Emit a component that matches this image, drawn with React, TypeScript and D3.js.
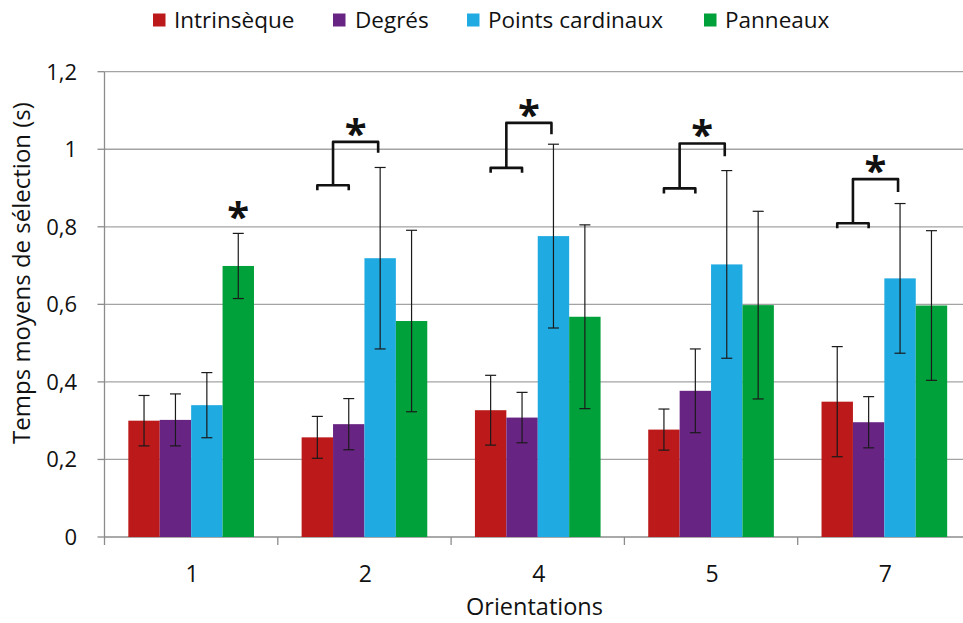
import React from "react";
import * as d3 from "d3";

const categories = ["1", "2", "4", "5", "7"];
const seriesNames = ["Intrinsèque", "Degrés", "Points cardinaux", "Panneaux"];
const seriesColors = ["#BC1A1A", "#682483", "#20AAE2", "#00A03A"];

const intrinseque = [0.3, 0.257, 0.327, 0.277, 0.349];
const degres = [0.302, 0.291, 0.308, 0.377, 0.296];
const pointsCardinaux = [0.34, 0.719, 0.776, 0.703, 0.667];
const panneaux = [0.699, 0.557, 0.568, 0.598, 0.597];

const errIntrinseque = [0.065, 0.054, 0.09, 0.053, 0.142];
const errDegres = [0.067, 0.066, 0.065, 0.108, 0.066];
const errPoints = [0.084, 0.234, 0.237, 0.242, 0.193];
const errPanneaux = [0.084, 0.234, 0.237, 0.242, 0.193];

const yTicks = [0, 0.2, 0.4, 0.6, 0.8, 1, 1.2];
const yTickLabels = ["0", "0,2", "0,4", "0,6", "0,8", "1", "1,2"];

// significance markers: bracket between (Intrinsèque, Degrés) and Points cardinaux
const sigLow = [NaN, 0.907, 0.952, 0.899, 0.809];
const sigHigh = [NaN, 1.019, 1.068, 1.015, 0.923];
const sigDrop = [NaN, 0.991, 1.039, 0.982, 0.89];
const starOnBar = [true, false, false, false, false];

const values = [intrinseque, degres, pointsCardinaux, panneaux];
const errors = [errIntrinseque, errDegres, errPoints, errPanneaux];

const W = 963;
const H = 623;
const FONT = "'Open Sans', sans-serif";

export default function App() {
  const plotLeft = 104.5;
  const plotRight = 971;
  const y = d3.scaleLinear().domain([0, 1.2]).range([537, 71.7]);
  const x0 = d3
    .scaleBand<string>()
    .domain(categories)
    .range([plotLeft, plotRight])
    .paddingInner(0.275)
    .paddingOuter(0.1375);
  const x1 = d3
    .scaleBand<string>()
    .domain(seriesNames)
    .range([0, x0.bandwidth()]);
  const step = x0.step();
  const bw = x1.bandwidth();

  const legendSquareX = [153, 333, 467, 704];
  const legendTextX = [174, 355, 488, 725];

  const cx = (ci: number, si: number) =>
    (x0(categories[ci]) as number) + (x1(seriesNames[si]) as number) + bw / 2;

  return (
    <svg
      width={W}
      height={H}
      style={{ position: "absolute", left: 0, top: 0, background: "#fff" }}
      fontFamily={FONT}
    >
      <rect x={0} y={0} width={W} height={H} fill="#fff" />
      {/* gridlines */}
      {yTicks.map((t, i) => (
        <line
          key={"g" + i}
          x1={plotLeft}
          x2={W}
          y1={y(t)}
          y2={y(t)}
          stroke={t === 0 ? "#8c8c8c" : "#a3a3a3"}
          strokeWidth={1.3}
        />
      ))}
      {/* y axis */}
      <line x1={plotLeft} x2={plotLeft} y1={y(1.2)} y2={y(0)} stroke="#8c8c8c" strokeWidth={1.3} />
      {yTicks.map((t, i) => (
        <line key={"yt" + i} x1={plotLeft - 7} x2={plotLeft} y1={y(t)} y2={y(t)} stroke="#8c8c8c" strokeWidth={1.3} />
      ))}
      {yTicks.map((t, i) => (
        <text
          key={"yl" + i}
          x={77}
          y={y(t) + 7.8}
          textAnchor="end"
          fontSize={22}
          fill="#111"
        >
          {yTickLabels[i]}
        </text>
      ))}
      {/* x ticks */}
      {categories.map((c, i) => (
        <line
          key={"xt" + i}
          x1={plotLeft + i * step}
          x2={plotLeft + i * step}
          y1={y(0)}
          y2={y(0) + 8}
          stroke="#8c8c8c"
          strokeWidth={1.3}
        />
      ))}
      {/* bars */}
      {categories.map((c, ci) =>
        seriesNames.map((s, si) => (
          <rect
            key={"b" + ci + "-" + si}
            x={(x0(c) as number) + (x1(s) as number)}
            y={y(values[si][ci])}
            width={bw}
            height={y(0) - y(values[si][ci])}
            fill={seriesColors[si]}
          />
        ))
      )}
      {/* error bars */}
      {categories.map((c, ci) =>
        seriesNames.map((s, si) => {
          const xc = cx(ci, si);
          const v = values[si][ci];
          const e = errors[si][ci];
          const top = y(v + e);
          const bot = y(v - e);
          return (
            <g key={"e" + ci + "-" + si} stroke="#1a1a1a" strokeWidth={1.2}>
              <line x1={xc} x2={xc} y1={top} y2={bot} />
              <line x1={xc - 5.5} x2={xc + 5.5} y1={top} y2={top} />
              <line x1={xc - 5.5} x2={xc + 5.5} y1={bot} y2={bot} />
            </g>
          );
        })
      )}
      {/* significance */}
      {categories.map((c, ci) => {
        if (starOnBar[ci]) {
          const xc = cx(ci, 3);
          const top = y(panneaux[ci] + errPanneaux[ci]);
          return (
            <text key={"s" + ci} x={xc} y={top - 23 + 21} textAnchor="middle" fontSize={40} fontWeight={700} fill="#111">
              *
            </text>
          );
        }
        const xr = cx(ci, 0);
        const xp = cx(ci, 1);
        const xm = (xr + xp) / 2;
        const xb = cx(ci, 2) - 2;
        const yl = y(sigLow[ci]);
        const yh = y(sigHigh[ci]);
        const yd = y(sigDrop[ci]);
        const path = d3.path();
        path.moveTo(xr, yl + 5);
        path.lineTo(xr, yl);
        path.lineTo(xp, yl);
        path.lineTo(xp, yl + 5);
        path.moveTo(xm, yl);
        path.lineTo(xm, yh);
        path.lineTo(xb, yh);
        path.lineTo(xb, yd);
        return (
          <g key={"s" + ci}>
            <path d={path.toString()} fill="none" stroke="#111" strokeWidth={2.6} strokeLinejoin="round" />
            <text x={(xm + xb) / 2} y={yh - 15 + 21} textAnchor="middle" fontSize={40} fontWeight={700} fill="#111">
              *
            </text>
          </g>
        );
      })}
      {/* x labels */}
      {categories.map((c, i) => (
        <text
          key={"xl" + i}
          x={(x0(c) as number) + x0.bandwidth() / 2 + 1}
          y={582}
          textAnchor="middle"
          fontSize={23}
          fill="#111"
        >
          {c}
        </text>
      ))}
      <text x={534.5} y={615} textAnchor="middle" fontSize={23.5} fill="#111">
        Orientations
      </text>
      <text
        transform={`translate(30,273) rotate(-90)`}
        textAnchor="middle"
        fontSize={24}
        fill="#111"
      >
        Temps moyens de sélection (s)
      </text>
      {/* legend */}
      {seriesNames.map((s, i) => (
        <g key={"l" + i}>
          <rect x={legendSquareX[i]} y={13.5} width={12.5} height={13} fill={seriesColors[i]} />
          <text x={legendTextX[i]} y={27.5} fontSize={22.5} fill="#111">
            {s}
          </text>
        </g>
      ))}
    </svg>
  );
}
